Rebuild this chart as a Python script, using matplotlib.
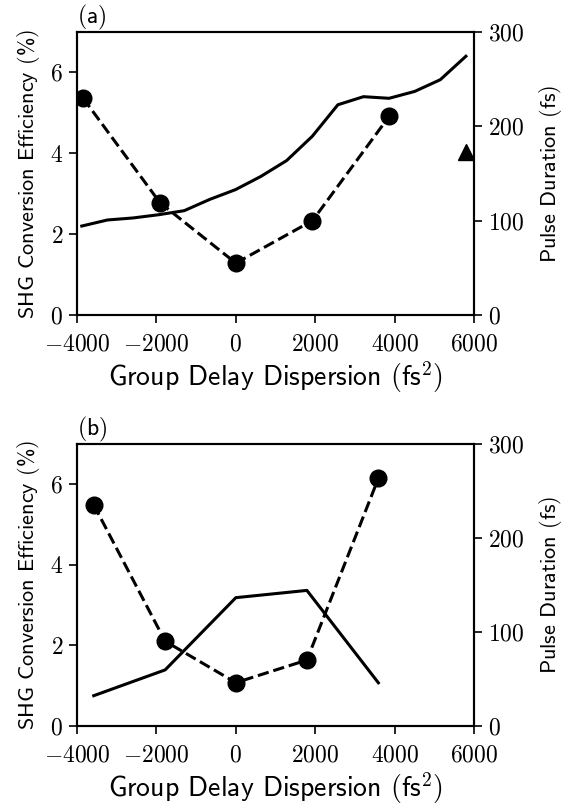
import matplotlib
matplotlib.use("Agg")
import matplotlib.pyplot as plt
from matplotlib.ticker import FuncFormatter

plt.rcParams["font.family"] = ["cmss10", "DejaVu Sans"]
plt.rcParams["mathtext.fontset"] = "cm"

# panel (a)
gdd_a_shg = [-3880, -3235, -2590, -1945, -1300, -655, -10, 635, 1280, 1925,
             2570, 3215, 3860, 4505, 5150, 5795]
shg_a = [2.20, 2.35, 2.40, 2.48, 2.58, 2.86, 3.10, 3.43, 3.82, 4.42,
         5.20, 5.40, 5.36, 5.53, 5.82, 6.40]
gdd_a_pulse = [-3850, -1910, 0, 1930, 3870]
pulse_a = [230, 119, 55, 100, 211]
gdd_a_tri = [5790]
pulse_a_tri = [173]

# panel (b)
gdd_b = [-3580, -1780, 0, 1790, 3590]
shg_b = [0.75, 1.39, 3.18, 3.36, 1.07]
pulse_b = [235, 90, 46, 70, 263]

xlabel = r"Group Delay Dispersion $(\mathsf{fs}^2)$"
ylabel_l = r"SHG Conversion Efficiency $($%$)$"
ylabel_r = r"Pulse Duration $($fs$)$"

mathfmt = FuncFormatter(lambda v, p: f"${int(round(v))}$")

fig = plt.figure(figsize=(5.71, 8.06), dpi=100)


def make_panel(rect, tag):
    ax = fig.add_axes(rect)
    ax2 = ax.twinx()
    ax.set_xlim(-4000, 6000)
    ax.set_ylim(0, 7)
    ax2.set_ylim(0, 300)
    ax.set_xticks([-4000, -2000, 0, 2000, 4000, 6000])
    ax.set_yticks([0, 2, 4, 6])
    ax2.set_yticks([0, 100, 200, 300])
    ax.xaxis.set_major_formatter(mathfmt)
    ax.yaxis.set_major_formatter(mathfmt)
    ax2.yaxis.set_major_formatter(mathfmt)
    for a in (ax, ax2):
        a.tick_params(direction="out", length=6, width=1.2, labelsize=17, pad=4)
        for s in a.spines.values():
            s.set_linewidth(1.5)
    ax.tick_params(axis="x", pad=7)
    ax.set_xlabel(xlabel, fontsize=20, labelpad=3)
    ax.set_ylabel(ylabel_l, fontsize=16, labelpad=6)
    ax2.set_ylabel(ylabel_r, fontsize=16, labelpad=9)
    ax.set_title(tag, loc="left", fontsize=17, pad=3)
    return ax, ax2


ax, ax2 = make_panel([0.1349, 0.6092, 0.6953, 0.3511], r"$($a$)$")
ax.plot(gdd_a_shg, shg_a, color="black", lw=2.2)
ax2.plot(gdd_a_pulse, pulse_a, "--", color="black", lw=2.2,
         marker="o", markersize=12)
ax2.plot(gdd_a_tri, pulse_a_tri, "^", color="black", markersize=12)

bx, bx2 = make_panel([0.1349, 0.0993, 0.6953, 0.3504], r"$($b$)$")
bx.plot(gdd_b, shg_b, color="black", lw=2.2)
bx2.plot(gdd_b, pulse_b, "--", color="black", lw=2.2,
         marker="o", markersize=12)

fig.savefig("out.png", dpi=100)
